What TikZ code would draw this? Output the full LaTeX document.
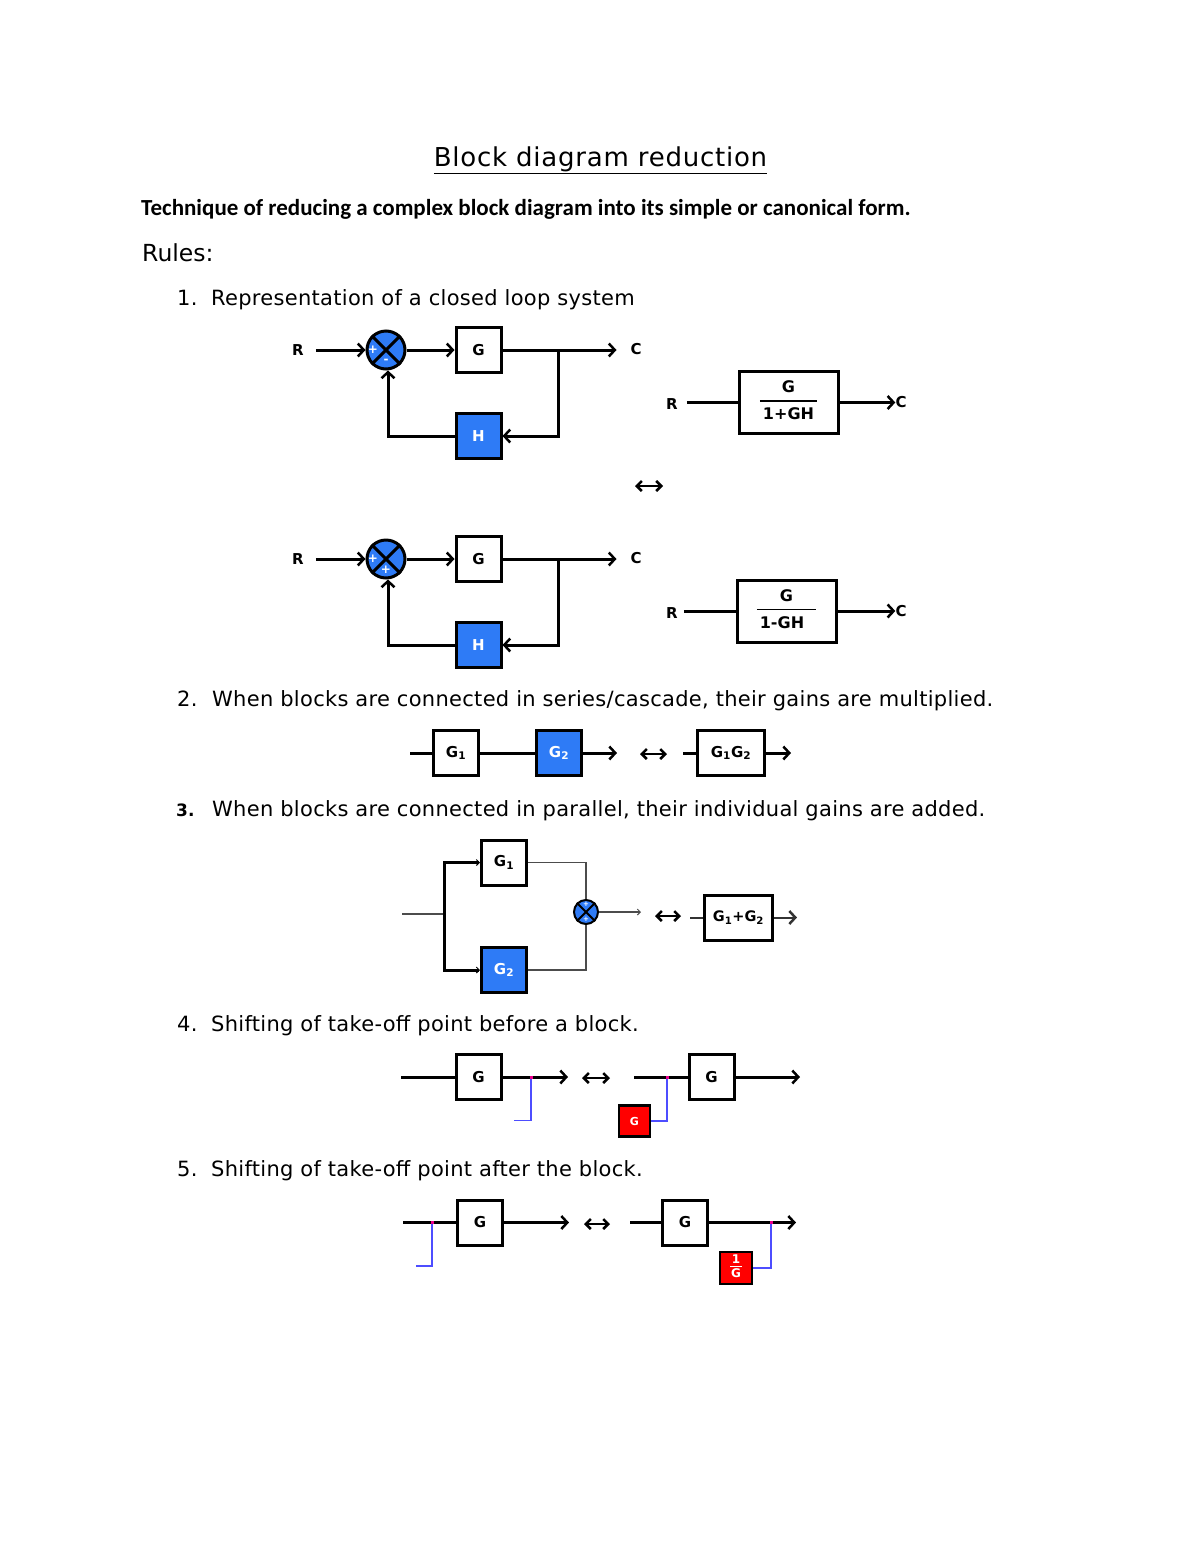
\documentclass[tikz,border=0pt]{standalone}
\usepackage{fontspec}
\usepackage{xcolor}
\usepackage{tikz}
\usetikzlibrary{arrows.meta,calc}
\setmainfont{DejaVu Sans}
\newfontfamily\calfont{Carlito}
\newfontfamily\itemfont[LetterSpace=1.4]{DejaVu Sans}
\newfontfamily\titlefont[LetterSpace=2.9]{DejaVu Sans}
\definecolor{blockblue}{HTML}{2E7BF6}
\definecolor{takeblue}{HTML}{4D4DFF}
\newcommand{\blockfrac}[2]{\setlength{\arrayrulewidth}{1.2pt}\fontsize{16}{16}\selectfont\begin{tabular}{@{\hspace{3pt}}c@{\hspace{3pt}}}#1\\[3pt]\hline\rule{0pt}{18pt}#2\end{tabular}}
\tikzset{
    line/.style={line width=3pt},
    thinline/.style={line width=1.5pt,draw=black!70},
    takeline/.style={line width=1.5pt,draw=takeblue},
    smalltip/.style={-{Straight Barb[length=3pt,width=6pt,line width=1pt]}},
    equiv/.style={line width=2.5pt,{Straight Barb[length=5pt,width=10pt,line width=2.5pt]}-{Straight Barb[length=5pt,width=10pt,line width=2.5pt]}},
    block/.style={draw,line width=3pt,fill=white,minimum width=45pt,minimum height=45pt,inner sep=0pt,font=\bfseries\fontsize{15}{15}\selectfont},
    blueblock/.style={block,fill=blockblue,text=white},
    redblock/.style={block,fill=red,text=white,minimum width=31pt,minimum height=31pt,line width=2.5pt,font=\bfseries\fontsize{11}{11}\selectfont},
    sumjn/.style={draw,circle,line width=3pt,fill=blockblue,minimum size=38pt,inner sep=0pt},
    sumsign/.style={text=white,inner sep=0pt,font=\bfseries\fontsize{12}{12}\selectfont},
    sig/.style={inner sep=0pt,font=\bfseries\fontsize{15}{15}\selectfont},
    item/.style={anchor=base west,inner sep=0pt,font=\itemfont\fontsize{21}{21}\selectfont},
    takedot/.style={fill=magenta,inner sep=0pt,minimum size=3pt},
}
\begin{document}
\begin{tikzpicture}[x=1pt,y=-1pt,>={Straight Barb[length=6pt,width=13pt,line width=2.5pt]}]
            \useasboundingbox (0,0) rectangle (1200,1553);
            % heading
            \node[inner sep=0pt,anchor=base,font=\titlefont\fontsize{26}{26}\selectfont] (title) at (600.5,166) {\underline{Block diagram reduction}};
            \node[inner sep=0pt,anchor=base west,font=\calfont\bfseries\fontsize{23}{24}\selectfont] (intro) at (141,215) {Technique of reducing a complex block diagram into its simple or canonical form.};
            \node[inner sep=0pt,anchor=base west,font=\fontsize{23.5}{24}\selectfont] (rules) at (142,261) {Rules:};
            \node[item] (num1) at (177,305) {1.};
            \node[item] (rule1) at (211,305) {Representation of a closed loop system};
            \node[item] (num2) at (177,706) {2.};
            \node[item] (rule2) at (212,706) {When blocks are connected in series/cascade, their gains are multiplied.};
            \node[item,font=\bfseries\fontsize{17}{17}\selectfont] (num3) at (176,816) {3.};
            \node[item] (rule3) at (212,816) {When blocks are connected in parallel, their individual gains are added.};
            \node[item] (num4) at (177,1031) {4.};
            \node[item] (rule4) at (211,1031) {Shifting of take-off point before a block.};
            \node[item] (num5) at (177,1176) {5.};
            \node[item] (rule5) at (211,1176) {Shifting of take-off point after the block.};

            % negative feedback
            \node[sig] (ra) at (298,350) {R};
            \node[sumjn] (suma) at (386,350) {};
            \draw[line width=3pt] (suma.north east) -- (suma.south west) (suma.north west) -- (suma.south east);
            \node[sumsign] (plusa) at (373,350) {+};
            \node[sumsign] (minusa) at (386,361) {-};
            \node[block] (ga) at (478.5,350) {G};
            \node[blueblock] (ha) at (478.5,436) {H};
            \node[sig] (ca) at (636,349) {C};
            \draw[line,->] (ra.east) ++(12,0) -- (suma.west);
            \draw[line,->] (suma.east) -- (ga.west);
            \draw[line,->] (ga.east) -- ++(114,0) coordinate (enda);
            \draw[line,->] ($(ga.east)!0.49!(enda)$) |- (ha.east);
            \draw[line,->] (ha.west) -| ([xshift=2pt]suma.south);

            \node[sig] (rb) at (672,404) {R};
            \node[block,minimum width=99pt,minimum height=62pt] (fa) at (788.5,402.5) {\blockfrac{G}{1+GH}};
            \node[sig] (cb) at (901,402.5) {C};
            \draw[line] (rb.east) ++(9,-1.5) coordinate (ina) -- (fa.west);
            \draw[line,->] (fa.east) -- (cb.west);
            \coordinate (eqal) at (635,486);
            \coordinate (eqar) at (663,486);
            \draw[equiv] (eqal) -- (eqar);

            % positive feedback
            \node[sig] (rc) at (298,559) {R};
            \node[sumjn] (sumb) at (386,559) {};
            \draw[line width=3pt] (sumb.north east) -- (sumb.south west) (sumb.north west) -- (sumb.south east);
            \node[sumsign] (plusb) at (373,559) {+};
            \node[sumsign] (plusc) at (386,570) {+};
            \node[block] (gb) at (478.5,559) {G};
            \node[blueblock] (hb) at (478.5,645) {H};
            \node[sig] (cc) at (636,558) {C};
            \draw[line,->] (rc.east) ++(12,0) -- (sumb.west);
            \draw[line,->] (sumb.east) -- (gb.west);
            \draw[line,->] (gb.east) -- ++(114,0) coordinate (endb);
            \draw[line,->] ($(gb.east)!0.49!(endb)$) |- (hb.east);
            \draw[line,->] (hb.west) -| ([xshift=2pt]sumb.south);

            \node[sig] (rd) at (672,613) {R};
            \node[block,minimum width=99pt,minimum height=62pt] (fb) at (786.5,611) {\blockfrac{G}{1-GH\kern9pt}};
            \node[sig] (cd) at (901,611) {C};
            \draw[line] (rd.east) ++(6,-2) coordinate (inb) -- (fb.west);
            \draw[line,->] (fb.east) -- (cd.west);

            % series
            \coordinate (ins) at (410,753);
            \node[block] (gs1) at (456,753) {G\textsubscript{1}};
            \node[blueblock] (gs2) at (559,753) {G\textsubscript{2}};
            \coordinate (outs) at (617,753);
            \draw[line] (ins) -- (gs1.west);
            \draw[line] (gs1.east) -- (gs2.west);
            \draw[line,->] (gs2.east) -- (outs);
            \coordinate (eqsl) at (640,754);
            \coordinate (eqsr) at (667,754);
            \draw[equiv] (eqsl) -- (eqsr);
            \coordinate (inss) at (683,753);
            \node[block,minimum width=67pt] (gss) at (731,753) {G\textsubscript{1}G\textsubscript{2}};
            \coordinate (outss) at (791,753);
            \draw[line] (inss) -- (gss.west);
            \draw[line,->] (gss.east) -- (outss);

            % parallel
            \coordinate (inp) at (402,914);
            \coordinate (brp) at (444,914);
            \node[block] (gp1) at (504,862.5) {G\textsubscript{1}};
            \node[blueblock] (gp2) at (504,970) {G\textsubscript{2}};
            \node[sumjn,minimum size=24pt,line width=2pt] (sump) at (586,912) {};
            \draw[line width=2pt] (sump.north east) -- (sump.south west) (sump.north west) -- (sump.south east);
            \node[sumsign,font=\bfseries\fontsize{7}{7}\selectfont] (plusp) at (586,904) {+};
            \node[sumsign,font=\bfseries\fontsize{7}{7}\selectfont] (pluspp) at (586,919) {+};
            \coordinate (outp) at (641,912);
            \draw[thinline] (inp) -- (brp);
            \draw[line,smalltip] (brp) |- (gp1.west);
            \draw[line,smalltip] (brp) |- (gp2.west);
            \draw[thinline] (gp1.east) -| (sump.north);
            \draw[thinline] (gp2.east) -| (sump.south);
            \draw[thinline,line width=1.2pt,smalltip] (sump.east) -- (outp);
            \coordinate (eqpl) at (655,916);
            \coordinate (eqpr) at (681,916);
            \draw[equiv] (eqpl) -- (eqpr);
            \coordinate (inpp) at (690,917.5);
            \node[block,minimum width=68pt,font=\bfseries\fontsize{14.5}{15}\selectfont] (gpp) at (738.5,917.5) {G\textsubscript{1}+G\textsubscript{2}};
            \coordinate (outpp) at (797,917.5);
            \draw[line width=2pt,draw=black!80] (inpp) -- (gpp.west);
            \draw[line width=2pt,draw=black!80,->] (gpp.east) -- (outpp);

            % take-off before block
            \coordinate (inta) at (401,1077);
            \node[block] (gta) at (478.5,1077) {G};
            \coordinate (outta) at (568,1077);
            \coordinate (freeta) at (514,1120.5);
            \draw[line] (inta) -- (gta.west);
            \draw[line,->] (gta.east) -- (outta);
            \draw[takeline] (531,1077) coordinate (tapa) |- (freeta);
            \node[takedot] (dota) at (tapa) {};
            \coordinate (eqtal) at (582,1078);
            \coordinate (eqtar) at (610,1078);
            \draw[equiv] (eqtal) -- (eqtar);
            \coordinate (intb) at (634,1077);
            \node[block] (gtb) at (711.5,1077) {G};
            \coordinate (outtb) at (800,1077);
            \node[redblock] (rta) at (634.5,1121) {G};
            \draw[line] (intb) -- (gtb.west);
            \draw[line,->] (gtb.east) -- (outtb);
            \draw[takeline] (667,1077) coordinate (tapb) |- (rta.east);
            \node[takedot] (dotb) at (tapb) {};

            % take-off after block
            \coordinate (intc) at (403,1222.5);
            \node[block] (gtc) at (480,1222.5) {G};
            \coordinate (outtc) at (569,1222.5);
            \coordinate (freetc) at (416,1266);
            \draw[line] (intc) -- (gtc.west);
            \draw[line,->] (gtc.east) -- (outtc);
            \draw[takeline] (432,1222.5) coordinate (tapc) |- (freetc);
            \node[takedot] (dotc) at (tapc) {};
            \coordinate (eqtcl) at (584,1224);
            \coordinate (eqtcr) at (610,1224);
            \draw[equiv] (eqtcl) -- (eqtcr);
            \coordinate (intd) at (630,1222.5);
            \node[block] (gtd) at (685,1222.5) {G};
            \coordinate (outtd) at (796,1222.5);
            \node[redblock,minimum width=32pt,minimum height=32pt] (rtb) at (736,1268) {\fontsize{12}{12}\selectfont\begin{tabular}{@{\hspace{1pt}}c@{\hspace{1pt}}}1\\[-1pt]\hline\rule{0pt}{11pt}G\end{tabular}};
            \draw[line] (intd) -- (gtd.west);
            \draw[line,->] (gtd.east) -- (outtd);
            \draw[takeline] (771,1222.5) coordinate (tapd) |- (rtb.east);
            \node[takedot] (dotd) at (tapd) {};
\end{tikzpicture}
\end{document}
